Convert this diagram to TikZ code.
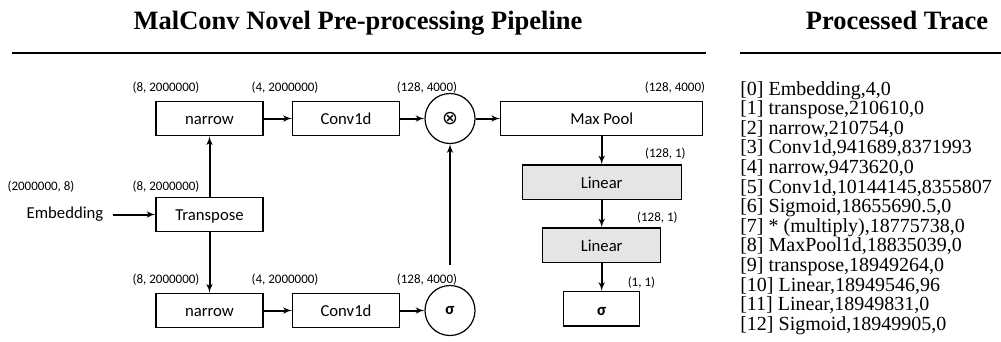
\documentclass[tikz,border=0pt]{standalone}
\usepackage{fontspec}
\setmainfont{Liberation Serif}
\newfontfamily\carlito{Carlito}
\newfontfamily\djv{DejaVu Sans}
\usetikzlibrary{shapes,arrows}

\begin{document}
\begin{tikzpicture}[x=1pt, y=-1pt, node distance=96pt, auto, semithick]
  \tikzstyle{block} = [rectangle, draw, line width=1.2pt, minimum width=107pt,
    minimum height=34.5pt, inner sep=0pt, text height=15pt, text depth=2.4pt,
    font=\carlito\fontsize{16.7}{20}\selectfont]
  \tikzstyle{gblock} = [block, fill=black!10]
  \tikzstyle{op} = [circle, draw, line width=1.2pt, minimum size=50pt, inner sep=0pt,
    font=\carlito\fontsize{16.7}{20}\selectfont]
  \tikzstyle{dim} = [inner sep=0pt, font=\carlito\fontsize{13}{15}\selectfont]
  \tikzstyle{head} = [font=\bfseries\fontsize{26.5}{30}\selectfont]
  \tikzstyle{rule} = [draw, line width=1.8pt]
  \tikzstyle{line} = [draw, line width=2pt, -latex']

  \useasboundingbox (0,0) rectangle (1001,341);

  % Headings
  \node [head, anchor=base] (hpipe) at (358,29) {MalConv Novel Pre-processing Pipeline};
  \node [head, anchor=base] (htrace) at (897,29) {Processed Trace};
  \path [rule] (12,53) -- (706,53);
  \path [rule] (740,53) -- (1001,53);

  % Place nodes
  \node [block] (trans) at (209.5,214.5) {Transpose};
  \node [block, above of=trans] (narrowA) {narrow};
  \node [block, below of=trans] (narrowB) {narrow};
  \node [block, right of=narrowA, node distance=136.5pt] (convA) {Conv1d};
  \node [block, right of=narrowB, node distance=136.5pt] (convB) {Conv1d};
  \node [op, right of=convA, node distance=104pt] (mul) {\djv\fontsize{19}{20}\selectfont ⊗};
  \node [op, right of=convB, node distance=104pt] (sig) {\textbf{σ}};
  \node [left of=trans, node distance=144.5pt, inner sep=0pt,
    font=\carlito\fontsize{16.7}{20}\selectfont] (emb) {Embedding};

  \node [block, minimum width=202pt, right of=mul, node distance=151.7pt] (pool) {Max Pool};
  \node [gblock, minimum width=159pt, below of=pool, node distance=63.7pt] (lin1) {Linear};
  \node [gblock, minimum width=118pt, below of=lin1, node distance=63pt] (lin2) {Linear};
  \node [block, minimum width=76pt, below of=lin2, node distance=63.6pt] (out) {\textbf{σ}};

  % Shapes
  \node [dim, above of=emb, node distance=28pt, xshift=-24pt] (dEmb) {(2000000, 8)};
  \node [dim, above of=trans, node distance=28pt, xshift=-43.5pt] (dTrans) {(8, 2000000)};
  \node [dim, above of=narrowA, node distance=31pt, xshift=-43.5pt] (dNarrowA) {(8, 2000000)};
  \node [dim, above of=convA, node distance=31pt, xshift=-61pt] (dConvA) {(4, 2000000)};
  \node [dim, above of=mul, node distance=31pt, xshift=-23pt] (dMul) {(128, 4000)};
  \node [dim, above of=narrowB, node distance=31pt, xshift=-43.5pt] (dNarrowB) {(8, 2000000)};
  \node [dim, above of=convB, node distance=31pt, xshift=-61pt] (dConvB) {(4, 2000000)};
  \node [dim, above of=sig, node distance=31pt, xshift=-23pt] (dSig) {(128, 4000)};
  \node [dim, above of=pool, node distance=31pt, xshift=73.3pt] (dPool) {(128, 4000)};
  \node [dim, above of=lin1, node distance=28.5pt, xshift=63.7pt] (dLin1) {(128, 1)};
  \node [dim, above of=lin2, node distance=28pt, xshift=55.7pt] (dLin2) {(128, 1)};
  \node [dim, above of=out, node distance=26.5pt, xshift=39.7pt] (dOut) {(1, 1)};

  % Trace
  \node [anchor=north west, inner sep=0pt, align=left,
    font=\fontsize{20}{19.6}\selectfont] (trace) at (740,81) {%
    {[0]} Embedding,4,0\\
    {[1]} transpose,210610,0\\
    {[2]} narrow,210754,0\\
    {[3]} Conv1d,941689,8371993\\
    {[4]} narrow,9473620,0\\
    {[5]} Conv1d,10144145,8355807\\
    {[6]} Sigmoid,18655690.5,0\\
    {[7]} * (multiply),18775738,0\\
    {[8]} MaxPool1d,18835039,0\\
    {[9]} transpose,18949264,0\\
    {[10]} Linear,18949546,96\\
    {[11]} Linear,18949831,0\\
    {[12]} Sigmoid,18949905,0};

  % Draw edges
  \path [line, shorten <=9pt] (emb) -- (trans);
  \path [line] (trans) -- (narrowA);
  \path [line] (trans) -- (narrowB);
  \path [line] (narrowA) -- (convA);
  \path [line] (convA) -- (mul);
  \path [line] (mul) -- (pool);
  \path [line] (narrowB) -- (convB);
  \path [line] (convB) -- (sig);
  \path [line, shorten <=20pt] (sig) -- (mul);

  \path [line] (pool) -- (lin1);
  \path [line] (lin1) -- (lin2);
  \path [line] (lin2) -- (out);

\end{tikzpicture}
\end{document}
